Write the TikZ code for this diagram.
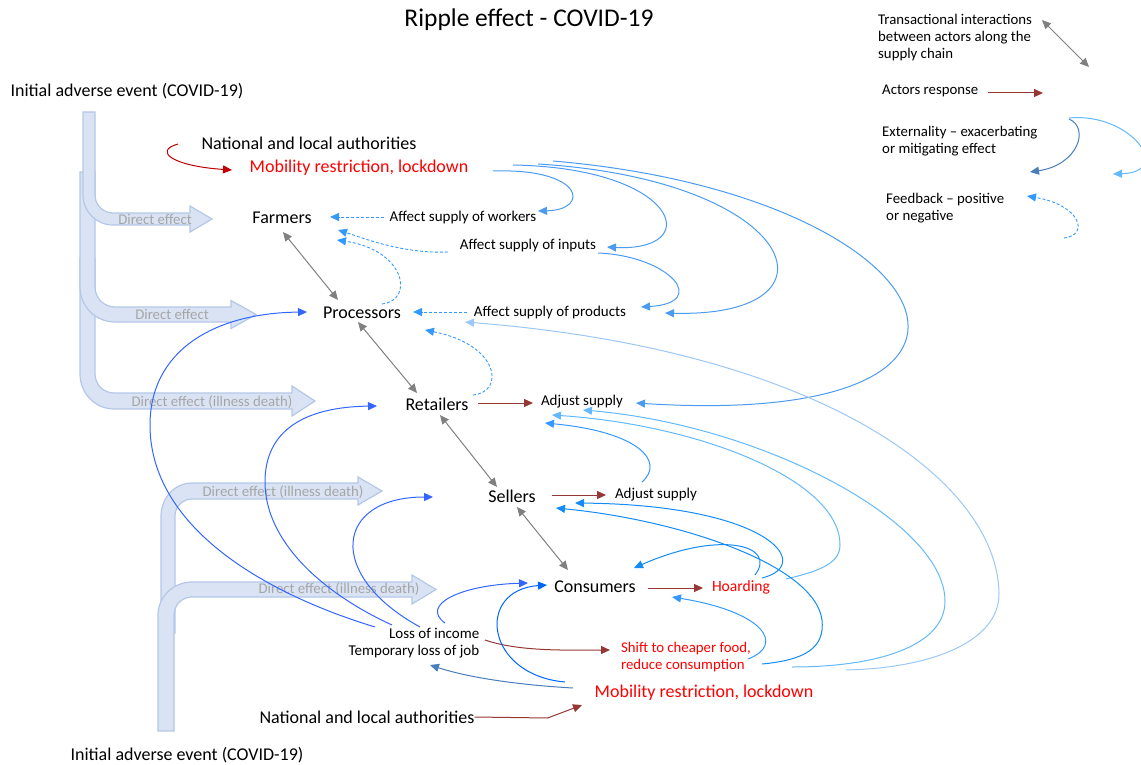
\documentclass[tikz,border=0pt]{standalone}
\usepackage{fontspec}
\setmainfont{Carlito}
\usetikzlibrary{arrows.meta,calc}
\definecolor{respred}{RGB}{149,55,53}
\definecolor{topred}{RGB}{192,0,0}
\definecolor{txtred}{RGB}{255,0,0}
\definecolor{arrgray}{RGB}{128,128,128}
\definecolor{bentfill}{RGB}{218,227,243}
\definecolor{bentdraw}{RGB}{180,199,231}
\definecolor{dirgray}{RGB}{166,166,166}
\definecolor{topblue}{RGB}{75,155,240}
\definecolor{fbblue}{RGB}{51,153,255}
\definecolor{lightA}{RGB}{155,200,245}
\definecolor{lightB}{RGB}{100,185,250}
\definecolor{hoardblue}{RGB}{20,140,245}
\definecolor{lossblue}{RGB}{51,102,255}
\definecolor{mobblue}{RGB}{0,102,255}
\definecolor{steel}{RGB}{74,126,187}
% top-group bent arrow: xl xr yt y1 y2 xb tip hw ri
\newcommand\bentDown[9]{%
  \path[bent] (#1,#3) -- (#2,#3) -- (#2,{#4-#9})
    .. controls (#2,{#4-0.448*#9}) and ({#2+0.448*#9},#4) .. ({#2+#9},#4)
    -- (#6,#4) -- (#6,{(#4+#5)/2-#8}) -- (#7,{(#4+#5)/2}) -- (#6,{(#4+#5)/2+#8}) -- (#6,#5)
    -- ({#2+#9},#5)
    .. controls ({#2+#9-0.552*(#2-#1+#9)},#5) and (#1,{#4-#9+0.552*(#5-#4+#9)}) .. (#1,{#4-#9})
    -- cycle;}
% bottom-group bent arrow: xl xr yb y1 y2 xb tip hw ri
\newcommand\bentUp[9]{%
  \path[bent] (#1,#3) -- (#1,{#5+#9})
    .. controls (#1,{#5+#9-0.552*(#5-#4+#9)}) and ({#2+#9-0.552*(#2-#1+#9)},#4) .. ({#2+#9},#4)
    -- (#6,#4) -- (#6,{(#4+#5)/2-#8}) -- (#7,{(#4+#5)/2}) -- (#6,{(#4+#5)/2+#8}) -- (#6,#5)
    -- ({#2+#9},#5)
    .. controls ({#2+0.448*#9},#5) and (#2,{#5+0.448*#9}) .. (#2,{#5+#9})
    -- (#2,#3) -- cycle;}
\begin{document}
\begin{tikzpicture}[x=1pt,y=-1pt,
  bent/.style={fill=bentfill, draw=bentdraw, line width=1.2pt},
  arr/.style={-{Triangle[length=9pt,width=8pt]}},
  actor/.style={inner sep=0pt, font=\fontsize{18}{21}\selectfont},
  lab/.style={inner sep=0pt, font=\fontsize{15}{17}\selectfont},
  redlab/.style={inner sep=0pt, text=txtred, font=\fontsize{15.6}{17}\selectfont},
  direct/.style={inner sep=0pt, text=dirgray, font=\fontsize{14.8}{17}\selectfont},
  legend/.style={inner sep=0pt, anchor=west, align=left, font=\fontsize{14.8}{17}\selectfont},
  trans/.style={draw=arrgray, line width=1pt, {Triangle[length=9pt,width=8pt]}-{Triangle[length=9pt,width=8pt]}},
  resp/.style={draw=respred, line width=1pt, arr},
  fb/.style={draw=fbblue, line width=0.9pt, dash pattern=on 3pt off 2pt, arr},
  ext/.style={line width=1pt, arr}]
\useasboundingbox (0,0) rectangle (1141,765);

% background bent arrows
\bentDown{80}{95}{258}{393}{409}{292}{315}{15}{19}
\bentDown{80}{95}{172}{307}{322}{231}{256}{14}{20}
\bentDown{83}{95}{112}{213}{225}{190}{212}{13}{18}
\bentUp{161}{175}{633}{483}{499}{358}{382}{14}{17}
\bentUp{158}{174}{731}{582}{597}{412}{436}{14.5}{18}

\node[direct] (de1) at (155,219) {Direct effect};
\node[direct] (de2) at (172,314) {Direct effect};
\node[direct] (de3) at (212,402) {Direct effect (illness death)};
\node[direct] (de4) at (283,492) {Direct effect (illness death)};
\node[direct] (de5) at (339,589) {Direct effect (illness death)};

% texts
\node[actor, font=\fontsize{25.5}{29}\selectfont] (title) at (529,20) {Ripple effect - COVID-19};
\node[actor] (init1) at (127,91) {Initial adverse event (COVID-19)};
\node[actor] (auth1) at (309,143) {National and local authorities};
\node[actor, text=txtred] (mob1) at (359,168) {Mobility restriction, lockdown};
\node[actor] (farmers) at (282,218) {Farmers};
\node[actor] (processors) at (362,313) {Processors};
\node[actor] (retailers) at (437,404) {Retailers};
\node[actor] (sellers) at (512,496) {Sellers};
\node[actor] (consumers) at (595,587) {Consumers};
\node[lab] (workers) at (463,218) {Affect supply of workers};
\node[lab] (inputs) at (528,246) {Affect supply of inputs};
\node[lab] (products) at (550,312) {Affect supply of products};
\node[lab] (adjR) at (582,402) {Adjust supply};
\node[lab] (adjS) at (656,495) {Adjust supply};
\node[redlab] (hoard) at (741,587) {Hoarding};
\node[redlab, align=left, font=\fontsize{14.8}{17}\selectfont] (shift) at (686,657) {Shift to cheaper food,\\reduce consumption};
\node[lab, align=right] (loss) at (414,643) {Loss of income\\Temporary loss of job};
\node[actor, text=txtred] (mob2) at (704,693) {Mobility restriction, lockdown};
\node[actor] (auth2) at (367,717) {National and local authorities};
\node[actor] (init2) at (187,755) {Initial adverse event (COVID-19)};

% legend
\node[legend] (leg1) at (878,38) {Transactional interactions\\between actors along the\\supply chain};
\node[legend] (leg2) at (882,91) {Actors response};
\node[legend] (leg3) at (882,141) {Externality – exacerbating\\or mitigating effect};
\node[legend] (leg4) at (886,208) {Feedback – positive\\or negative};
\coordinate (lgA1) at (1042,20); \coordinate (lgA2) at (1089,67);
\coordinate (lgB1) at (988,93);  \coordinate (lgB2) at (1043,93);
\coordinate (lgC1) at (1069,119); \coordinate (lgC2) at (1030,172);
\coordinate (lgD1) at (1069,118); \coordinate (lgD2) at (1113,174);
\coordinate (lgE1) at (1064,238); \coordinate (lgE2) at (1027,196);
\draw[trans] (lgA1) -- (lgA2);
\draw[resp] (lgB1) -- (lgB2);
\draw[ext, draw=steel] (lgC1) .. controls (1090,128) and (1078,165) .. (lgC2);
\draw[ext, draw=lightB] (lgD1) .. controls (1130,112) and (1175,172) .. (lgD2);
\draw[fb] (lgE1) .. controls (1090,235) and (1080,205) .. (lgE2);

% authorities -> mobility (top)
\draw[ext, draw=topred] ($(auth1)+(-131,1)$) .. controls (153,151) and (172,166) .. ($(mob1)+(-127,2)$);

% transactional interactions
\draw[trans] ($(farmers)+(1,14)$) -- ($(processors)+(-24,-13)$);
\draw[trans] ($(processors)+(-4,9)$) -- ($(retailers)+(-20,-11)$);
\draw[trans] ($(retailers)+(3,11)$) -- ($(sellers)+(-15,-9)$);
\draw[trans] ($(sellers)+(5,11)$) -- ($(consumers)+(-27,-17)$);

% actors response
\draw[resp] ($(retailers)+(41,-1)$) -- ($(adjR)+(-49,1)$);
\draw[resp] ($(sellers)+(40,-1)$) -- ($(adjS)+(-50,0)$);
\draw[resp] ($(consumers)+(53,1)$) -- ($(hoard)+(-38,1)$);
\draw[resp] ($(loss)+(71,-3)$) .. controls (520,652) and (570,650) .. ($(shift)+(-76,-7)$);
\draw[resp] (auth2.east) -- ++(73,1) -- ($(mob2)+(-122,12)$);

% externalities from top mobility restriction
\draw[ext, draw=topblue] ($(mob1)+(134,3)$) .. controls (585,168) and (590,210) .. ($(workers)+(75,-7)$);
\draw[ext, draw=topblue] ($(mob1)+(154,-3)$) .. controls (680,168) and (705,252) .. ($(inputs)+(79,1)$);
\draw[ext, draw=topblue] ($(mob1)+(179,-4)$) .. controls (800,180) and (850,318) .. ($(products)+(115,1)$);
\draw[ext, draw=topblue] ($(mob1)+(194,-7)$) .. controls (950,195) and (1060,430) .. ($(adjR)+(54,1)$);
\draw[ext, draw=topblue] ($(inputs)+(70,7)$) .. controls (670,256) and (710,303) .. ($(products)+(91,-5)$);

% feedbacks
\draw[fb] ($(workers)+(-79,-1)$) -- ($(farmers)+(48,-1)$);
\draw[fb] ($(inputs)+(-80,6)$) .. controls (403,254) and (363,238) .. ($(farmers)+(56,12)$);
\draw[fb] ($(processors)+(20,-9)$) .. controls (415,300) and (405,250) .. ($(farmers)+(55,22)$);
\draw[fb] ($(products)+(-83,0)$) -- ($(processors)+(51,-1)$);
\draw[fb] ($(retailers)+(36,-9)$) .. controls (505,392) and (500,345) .. ($(processors)+(63,17)$);

% long light-blue curves
\draw[ext, draw=lightA] ($(shift)+(160,13)$) .. controls (935,668) and (1000,640) .. (999,593)
   .. controls (997,480) and (820,350) .. ($(products)+(-85,10)$);
\draw[ext, draw=lightB] ($(shift)+(106,10)$) .. controls (880,667) and (946,645) .. (945,600)
   .. controls (943,520) and (760,425) .. ($(adjR)+(1,8)$);
\draw[ext, draw=lightB] ($(hoard)+(45,-8)$) .. controls (815,572) and (840,565) .. (840,545)
   .. controls (840,480) and (700,425) .. ($(adjR)+(-30,13)$);

% hoarding / consumption feedbacks
\draw[ext, draw=hoardblue] ($(hoard)+(21,-9)$) .. controls (815,565) and (770,505) .. ($(sellers)+(63,7)$);
\draw[ext, draw=hoardblue] ($(hoard)+(14,-12)$) .. controls (778,545) and (720,530) .. ($(consumers)+(39,-19)$);
\draw[ext, draw=hoardblue] ($(shift)+(76,7)$) .. controls (805,660) and (825,648) .. (822,620)
   .. controls (815,565) and (680,520) .. ($(sellers)+(44,12)$);
\draw[ext, draw=fbblue] ($(shift)+(62,2)$) .. controls (785,645) and (765,612) .. ($(consumers)+(77,10)$);
\draw[ext, draw=fbblue] ($(adjS)+(-14,-13)$) .. controls (665,462) and (640,432) .. ($(adjR)+(-37,21)$);

% loss of income / job
\draw[ext, draw=lossblue] ($(loss)+(-39,-16)$) .. controls (260,592) and (150,525) .. (150,425)
   .. controls (150,350) and (215,313) .. ($(processors)+(-55,-1)$);
\draw[ext, draw=lossblue] ($(loss)+(-22,-18)$) .. controls (320,592) and (265,540) .. (265,482)
   .. controls (265,430) and (305,407) .. ($(retailers)+(-60,2)$);
\draw[ext, draw=lossblue] ($(loss)+(6,-16)$) .. controls (325,575) and (335,497) .. ($(sellers)+(-79,1)$);
\draw[ext, draw=lossblue] ($(loss)+(31,-20)$) .. controls (420,605) and (460,585) .. ($(consumers)+(-67,-4)$);

% bottom mobility restriction
\draw[ext, draw=mobblue] ($(mob2)+(-139,-11)$) .. controls (485,675) and (475,590) .. ($(consumers)+(-48,-2)$);
\draw[ext, draw=steel] ($(mob2)+(-131,-5)$) .. controls (520,685) and (470,678) .. ($(loss)+(16,22)$);
\end{tikzpicture}
\end{document}
